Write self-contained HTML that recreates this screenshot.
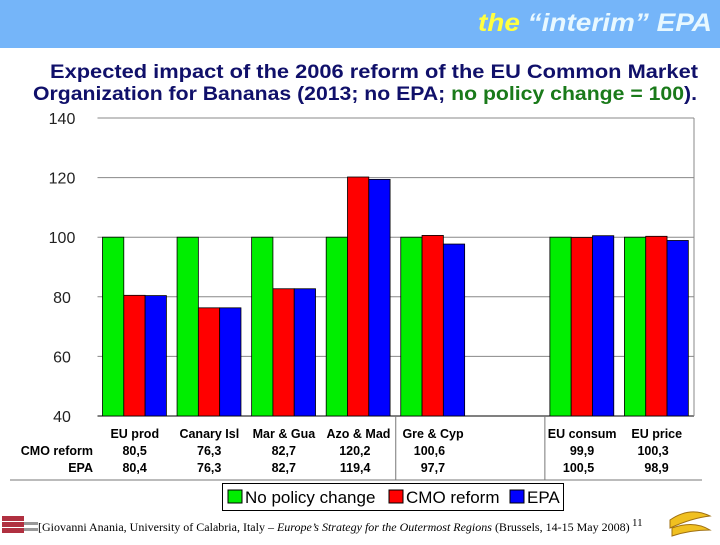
<!DOCTYPE html>
<html><head><meta charset="utf-8"><style>
body{margin:0;width:720px;height:540px;overflow:hidden;background:#fff;font-family:"Liberation Sans",sans-serif;}
</style></head><body>
<svg id="c" width="720" height="540" xmlns="http://www.w3.org/2000/svg">
<rect x="0" y="0" width="720" height="48" fill="#75b5f9"/>
<text x="478" y="31" textLength="234" lengthAdjust="spacingAndGlyphs" font-size="25" font-weight="bold" font-style="italic" fill="#e8f8ff"><tspan fill="#ffff40">the</tspan> “interim” EPA</text>
<text x="50" y="78" textLength="648" lengthAdjust="spacingAndGlyphs" font-size="19.5" font-weight="bold" fill="#10106a">Expected impact of the 2006 reform of the EU Common Market</text>
<text x="33" y="100" textLength="664" lengthAdjust="spacingAndGlyphs" font-size="19.5" font-weight="bold" fill="#10106a">Organization for Bananas (2013; no EPA; <tspan fill="#1a7a1a">no policy change = 100</tspan>).</text>
<g id="grid"></g><g id="bars"></g><g id="table"></g>
<g>
<rect x="222.5" y="483.5" width="341" height="27" fill="#fff" stroke="#000"/>
<rect x="228" y="490" width="14" height="13" fill="#00ee00" stroke="#000"/>
<text x="245" y="503" font-size="17">No policy change</text>
<rect x="389" y="490" width="14" height="13" fill="#ff0000" stroke="#000"/>
<text x="406" y="503" font-size="17">CMO reform</text>
<rect x="510" y="490" width="14" height="13" fill="#0000ff" stroke="#000"/>
<text x="527" y="503" font-size="17">EPA</text>
</g>
<g>
<rect x="2" y="516" width="22" height="5" fill="#b03040"/><rect x="2" y="522" width="22" height="5" fill="#b03040"/><rect x="2" y="528" width="22" height="5" fill="#b03040"/>
<rect x="24" y="522" width="14" height="3" fill="#999"/><rect x="24" y="528" width="14" height="3" fill="#999"/>
</g>
<text x="38" y="531" font-size="12" font-family="Liberation Serif,serif">[Giovanni Anania, University of Calabria, Italy – <tspan font-style="italic">Europe’s Strategy for the Outermost Regions</tspan> (Brussels, 14-15 May 2008)</text>
<text x="632" y="526" font-size="11" font-family="Liberation Serif,serif">11</text>
<g><path d="M670 520 q20 -14 40 -4 q-18 2 -40 12z" fill="#f0c020" stroke="#a07010"/><path d="M672 528 q22 -8 38 2 q-20 0 -38 6z" fill="#f0c020" stroke="#a07010"/></g>
</svg>
<script>
const categories=["EU prod","Canary Isl","Mar & Gua","Azo & Mad","Gre & Cyp","","EU consum","EU price"];
const noPolicy=[100,100,100,100,100,null,100,100];
const cmoReform=[80.5,76.3,82.7,120.2,100.6,null,99.9,100.3];
const epa=[80.4,76.3,82.7,119.4,97.7,null,100.5,98.9];
const cmoLabels=["80,5","76,3","82,7","120,2","100,6","","99,9","100,3"];
const epaLabels=["80,4","76,3","82,7","119,4","97,7","","100,5","98,9"];
const yTicks=[40,60,80,100,120,140];
const NS="http://www.w3.org/2000/svg";
const X0=97.5,X1=694,Y0=416,Y1=118,YMIN=40,YMAX=140;
const slot=(X1-X0)/categories.length;
function y(v){return Y0-(v-YMIN)/(YMAX-YMIN)*(Y0-Y1);}
function xg(i){return X0+slot*i;}
function el(tag,attrs,parent,txt){const e=document.createElementNS(NS,tag);for(const k in attrs)e.setAttribute(k,attrs[k]);if(txt!==undefined)e.textContent=txt;parent.appendChild(e);return e;}
const grid=document.getElementById('grid'),bars=document.getElementById('bars'),table=document.getElementById('table');
yTicks.forEach(t=>{
  const l=el('line',{x1:X0,x2:X1,y1:y(t),y2:y(t),stroke:t===YMIN?'#000':'#888','stroke-width':1},grid);
  
  
  const tx=el('text',{x:62,y:y(t)+6,'text-anchor':'middle','font-size':16,fill:'#222'},grid,String(t));
  
  
});
const rb=el('line',{x1:X1,x2:X1,y1:Y1,y2:Y0,stroke:'#888'},grid);


const series=[[noPolicy,'#00ee00','no-policy'],[cmoReform,'#ff0000','cmo'],[epa,'#0000ff','epa']];
const bw=21.3;
categories.forEach((c,i)=>{
  series.forEach((s,j)=>{
    const v=s[0][i]; if(v==null)return;
    const r=el('rect',{x:xg(i)+5+bw*j,y:y(v),width:bw,height:Y0-y(v),fill:s[1],stroke:'#000','stroke-width':0.8},bars);
    
    
  });
  const cx=xg(i)+slot/2;
  if(c){
    const t=el('text',{x:cx,y:438,'text-anchor':'middle','font-size':12.5,'font-weight':'bold'},table,c);
    
    
  }
  const a=el('text',{x:cx+12,y:455,'text-anchor':'end','font-size':12.5,'font-weight':'bold'},table,cmoLabels[i]);
  
  
  const b=el('text',{x:cx+12,y:472,'text-anchor':'end','font-size':12.5,'font-weight':'bold'},table,epaLabels[i]);
  
  
});
const h1=el('text',{x:93,y:455,'text-anchor':'end','font-size':12.5,'font-weight':'bold'},table,'CMO reform');


const h2=el('text',{x:93,y:472,'text-anchor':'end','font-size':12.5,'font-weight':'bold'},table,'EPA');


[4,6].forEach(i=>{
  const v=el('line',{x1:xg(i),x2:xg(i),y1:Y0,y2:480,stroke:'#777'},table);
  
  
});
const hl=el('line',{x1:10,x2:702,y1:480,y2:480,stroke:'#777'},table);


</script>
</body></html>
